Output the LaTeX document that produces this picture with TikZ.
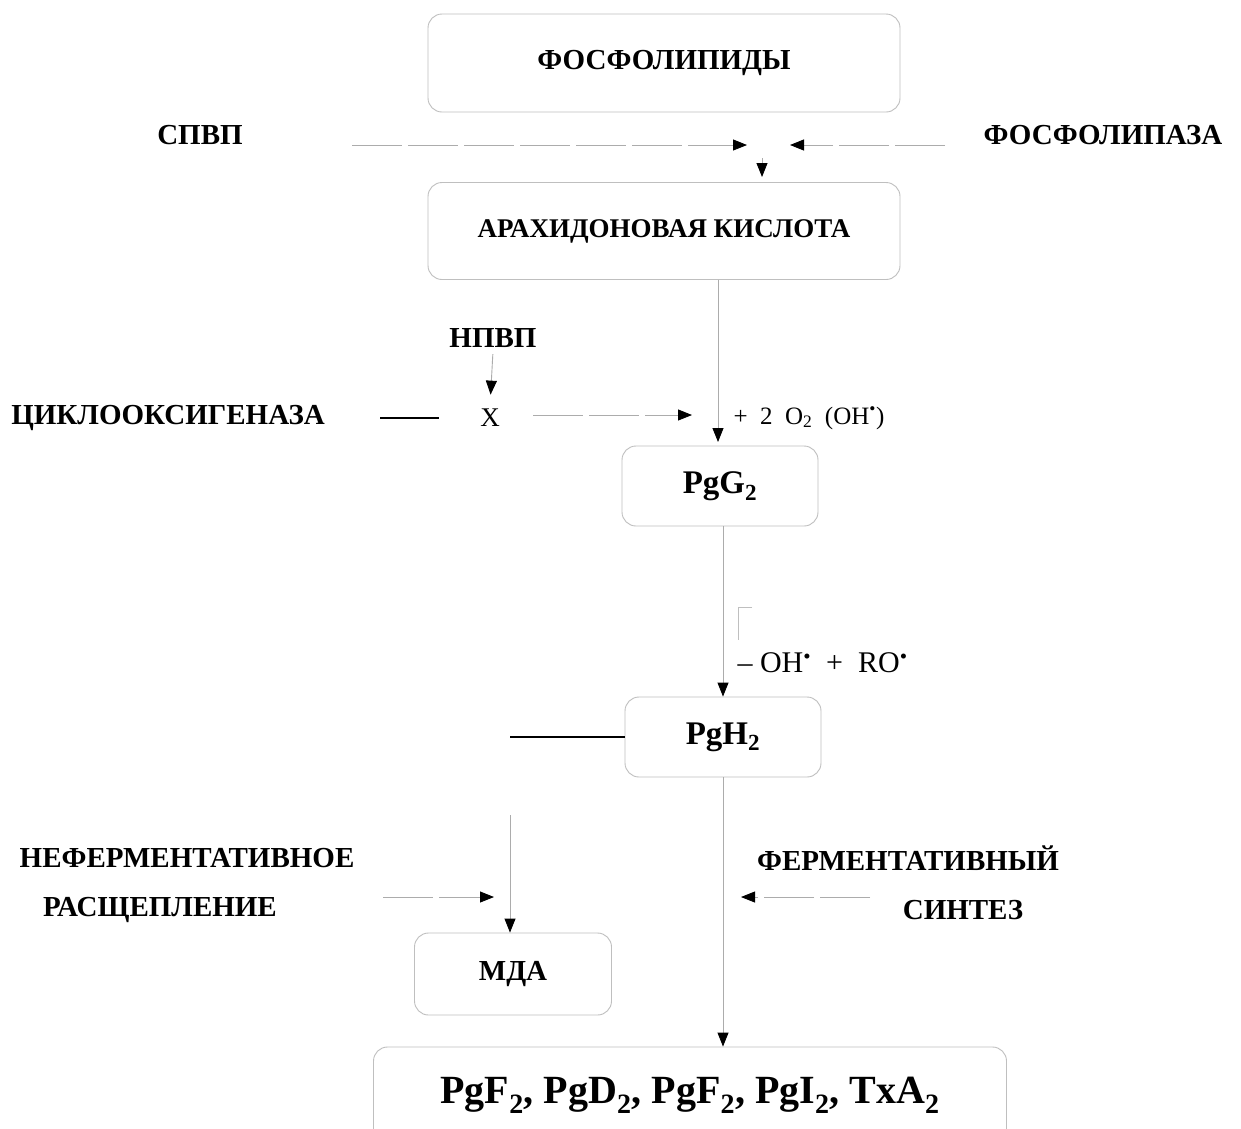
\documentclass[tikz,border=0pt]{standalone}
\usepackage{fontspec}
\setmainfont{Liberation Serif}
\usetikzlibrary{arrows.meta, positioning}
\newcommand{\labfont}{\fontsize{29}{33}\selectfont\bfseries}
\newcommand{\pgfont}{\fontsize{33}{37}\selectfont\bfseries}
\newcommand{\rad}{\textsuperscript{\textbullet}}

\begin{document}
\begin{tikzpicture}[
  x=1pt, y=-1pt,
  box/.style={rectangle, draw=gray!50, line width=0.9pt, rounded corners=14pt,
              font=\labfont},
  lab/.style={font=\labfont},
  plain/.style={font=\fontsize{25}{29}\selectfont},
  link/.style={draw=gray!65, line width=0.9pt,
               -{Triangle[color=black, length=14pt, width=11pt]}},
  sidelink/.style={link, dash pattern=on 50pt off 6pt},
  bar/.style={draw=black, line width=2pt}
]
  \useasboundingbox (0,0) rectangle (1241,1128);
  \clip (0,0) rectangle (1241,1128);
  \fill[white] (0,0) rectangle (1241,1128);

  \node[box, minimum width=472, minimum height=98] (phos) at (664,63) {ФОСФОЛИПИДЫ};
  \node[box, minimum width=472, minimum height=97] (arach) at (664,231)
    {\fontsize{27}{31}\selectfont АРАХИДОНОВАЯ КИСЛОТА};
  \node[lab] (spvp) at (200,135) {СПВП};
  \node[lab] (phlip) at (1103,135) {ФОСФОЛИПАЗА};
  \coordinate (spvpA) at (352,145);
  \coordinate (spvpB) at (747,145);
  \coordinate (phlipA) at (945,145);
  \coordinate (phlipB) at (790,145);
  \coordinate (meetA) at (762,158);
  \coordinate (meetB) at (762,177);
  \draw[sidelink] (spvpA) -- (spvpB);
  \draw[sidelink] (phlipA) -- (phlipB);
  \draw[link] (meetA) -- (meetB);

  % cyclooxygenase step
  \node[lab] (npvp) at (493,338) {НПВП};
  \node[font=\fontsize{27}{31}\selectfont] (inhib) at (490,418) {X};
  \node[lab] (cox) at (168,418) {ЦИКЛООКСИГЕНАЗА};
  \draw[link, shorten <=3pt, shorten >=11pt] (npvp.south) -- (inhib.north);
  \draw[bar, shorten <=52pt, shorten >=38pt] (cox.east) -- (inhib.west);
  \coordinate (oxin) at (692,415);
  \draw[sidelink, shorten <=30pt] (inhib.east |- oxin) -- (oxin);
  \node[plain, anchor=west] (oxy) at (730,418)
    {+\ \ 2\ \ O\textsubscript{2}\ \ (OH\rad)};

  \node[box, minimum width=196, minimum height=80, font=\pgfont] (pgg) at (720,486)
    {PgG\textsubscript{2}};
  \coordinate (pggtop) at (718,442);
  \draw[link] (arach.south -| pggtop) -- (pggtop);

  \node[box, minimum width=196, minimum height=80, font=\pgfont] (pgh) at (723,737)
    {PgH\textsubscript{2}};
  \draw[link] (pgg.south -| pgh.north) -- (pgh.north);
  \draw[gray!50, line width=0.8pt] (752,607) -- (738,607) -- (738,640);
  \node[font=\fontsize{30}{34}\selectfont, anchor=west] (rad) at (734,663)
    {–\ OH\rad\ \ +\ \ RO\rad};
  \coordinate (pghfree) at (510,737);
  \draw[bar] (pghfree) -- (pgh.west);

  % two branches
  \node[box, minimum width=197, minimum height=82] (mda) at (513,974) {МДА};
  \coordinate (mdafree) at (510,815);
  \draw[link] (mdafree) -- (mdafree |- mda.north);
  \node[lab] (nonenz) at (187,858) {НЕФЕРМЕНТАТИВНОЕ};
  \node[lab] (split) at (160,910) {РАСЩЕПЛЕНИЕ};
  \coordinate (nonA) at (383,897);
  \coordinate (nonB) at (494,897);
  \draw[sidelink] (nonA) -- (nonB);
  \node[lab] (enz) at (908,858) {ФЕРМЕНТАТИВНЫЙ};
  \node[lab] (synth) at (963,910) {СИНТЕЗ};
  \coordinate (enzA) at (870,897);
  \coordinate (enzB) at (741,897);
  \draw[sidelink] (enzA) -- (enzB);

  \node[box, minimum width=633, minimum height=96,
        font=\fontsize{40}{44}\selectfont\bfseries] (prod) at (690,1095)
    {PgF\textsubscript{2}, PgD\textsubscript{2}, PgF\textsubscript{2},
     PgI\textsubscript{2}, TxA\textsubscript{2}};
  \draw[link] (pgh.south) -- (pgh.south |- prod.north);
\end{tikzpicture}
\end{document}
